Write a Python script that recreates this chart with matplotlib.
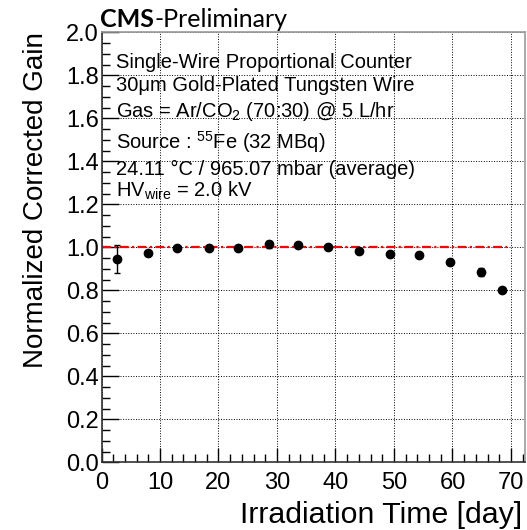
import matplotlib
matplotlib.use("Agg")
import matplotlib.pyplot as plt
from matplotlib.ticker import MultipleLocator, FormatStrFormatter

plt.rcParams['font.family'] = ['Liberation Sans', 'DejaVu Sans']
plt.rcParams['mathtext.fontset'] = 'custom'
plt.rcParams['mathtext.rm'] = 'Liberation Sans'
plt.rcParams['mathtext.it'] = 'Liberation Sans'

days = [2.6, 7.9, 12.9, 18.3, 23.3, 28.6, 33.6, 38.8, 44.0, 49.3, 54.3, 59.5, 64.8, 68.5]
gain = [0.946, 0.975, 0.995, 0.995, 0.995, 1.014, 1.011, 1.003, 0.984, 0.967, 0.966, 0.932, 0.886, 0.800]
gain_err = [0.067, 0.008, 0.008, 0.008, 0.008, 0.016, 0.010, 0.008, 0.008, 0.008, 0.008, 0.008, 0.018, 0.008]
ref_x = [0, 69.3]
ref_y = [1.0, 1.0]

info_lines = [
    "Single-Wire Proportional Counter",
    "30\u03bcm Gold-Plated Tungsten Wire",
    "Gas = Ar/CO$_2$ (70:30) @ 5 L/hr",
    "Source : $^{55}$Fe (32 MBq)",
    "24.11 \u00b0C / 965.07 mbar (average)",
    "HV$_{\\mathrm{wire}}$ = 2.0 kV",
]
info_y = [1.833, 1.728, 1.608, 1.46, 1.337, 1.235]

fig = plt.figure(figsize=(5.27, 5.30), dpi=100)
ax = fig.add_axes([0.1926, 0.1277, 0.8036, 0.8113])

ax.plot(ref_x, ref_y, color='red', linestyle=(0, (4, 1.5, 1, 1.5)), linewidth=1.6, zorder=2)
ax.errorbar(days, gain, yerr=gain_err, fmt='o', color='black', markersize=6,
            elinewidth=1, capsize=2.5, capthick=1, zorder=3)

ax.set_xlim(0, 72.4)
ax.set_ylim(0, 2.0)
ax.xaxis.set_major_locator(MultipleLocator(10))
ax.xaxis.set_minor_locator(MultipleLocator(2))
ax.yaxis.set_major_locator(MultipleLocator(0.2))
ax.yaxis.set_minor_locator(MultipleLocator(0.05))
ax.yaxis.set_major_formatter(FormatStrFormatter('%.1f'))
ax.tick_params(which='major', direction='in', length=12, width=1, labelsize=17, pad=2)
ax.tick_params(which='minor', direction='in', length=6, width=1)
ax.tick_params(axis='x', which='major', length=10, pad=7)
ax.tick_params(axis='x', which='minor', length=6)
ax.grid(True, which='major', color='black', linestyle=':', linewidth=0.7)

for s in ['left', 'bottom']:
    ax.spines[s].set_color('#333333')
    ax.spines[s].set_linewidth(1.2)
for s in ['top', 'right']:
    ax.spines[s].set_color('#999999')
    ax.spines[s].set_linewidth(1.2)

ax.set_ylabel("Normalized Corrected Gain", fontsize=20, ha='right', va='center')
ax.yaxis.set_label_coords(-0.155, 1.0)
ax.set_xlabel("Irradiation Time [day]", fontsize=21.8, ha='right', va='baseline')
ax.xaxis.set_label_coords(0.993, -0.1419)

for t, y in zip(info_lines, info_y):
    ax.text(2.4, y, t, fontsize=14.5, va='baseline', ha='left')

t1 = fig.text(0.19, 0.949, "CMS", fontsize=18, fontweight='bold', family='Lato', ha='left', va='baseline')
fig.canvas.draw()
bb = t1.get_window_extent(renderer=fig.canvas.get_renderer())
x_after = bb.x1 / fig.bbox.width
fig.text(x_after, 0.949, "-Preliminary", fontsize=18, family='Lato', ha='left', va='baseline')

fig.savefig("out.png", dpi=100)
